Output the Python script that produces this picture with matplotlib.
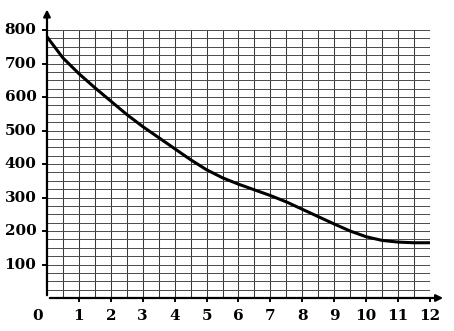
import matplotlib.pyplot as plt
import numpy as np

# values every half unit
x_vals = [0, 0.5, 1, 1.5, 2, 2.5, 3, 3.5, 4, 4.5, 5, 5.5, 6, 6.5, 7, 7.5, 8, 8.5, 9, 9.5, 10, 10.5, 11, 11.5, 12]
y_vals = [780, 717, 670, 628, 588, 548, 512, 479, 446, 413, 383, 359, 340, 323, 306, 287, 265, 243, 221, 200, 183, 172, 167, 165, 165]
x_ticks = list(range(1, 13))
y_ticks = [100, 200, 300, 400, 500, 600, 700, 800]

plt.rcParams['font.family'] = ['DejaVu Serif']

fig = plt.figure(figsize=(4.54, 3.31), dpi=100)
ax = fig.add_axes([0.1035, 0.0997, 0.8435, 0.8093])
ax.set_xlim(0, 12)
ax.set_ylim(0, 800)

# paper grid
for gx in np.arange(0.5, 12.01, 0.5):
    ax.axvline(gx, color='#3a3a3a', lw=0.75, zorder=1)
for gy in np.arange(25, 801, 25):
    ax.axhline(gy, color='#4a4a4a', lw=0.7, zorder=1)

ax.plot(x_vals, y_vals, color='black', lw=2.2, zorder=3, solid_capstyle='round')

for s in ax.spines.values():
    s.set_visible(False)
ax.set_xticks([])
ax.set_yticks([])

# axes with arrows
ax.annotate('', xy=(12.5, 0), xytext=(0, 0), annotation_clip=False,
            arrowprops=dict(arrowstyle='-|>', color='black', lw=1.6, mutation_scale=10))
ax.annotate('', xy=(0, 870), xytext=(0, 0), annotation_clip=False,
            arrowprops=dict(arrowstyle='-|>', color='black', lw=1.6, mutation_scale=10))

for t in x_ticks:
    ax.plot([t, t], [0, -8], color='black', lw=1.4, clip_on=False)
    ax.text(t, -55, str(t), ha='center', va='center', fontsize=11, fontweight='bold')
for t in y_ticks:
    ax.plot([0, -0.12], [t, t], color='black', lw=1.4, clip_on=False)
    ax.text(-0.33, t, str(t), ha='right', va='center', fontsize=11, fontweight='bold')
ax.text(-0.3, -55, '0', ha='center', va='center', fontsize=11, fontweight='bold')

fig.savefig('out.png', dpi=100)
